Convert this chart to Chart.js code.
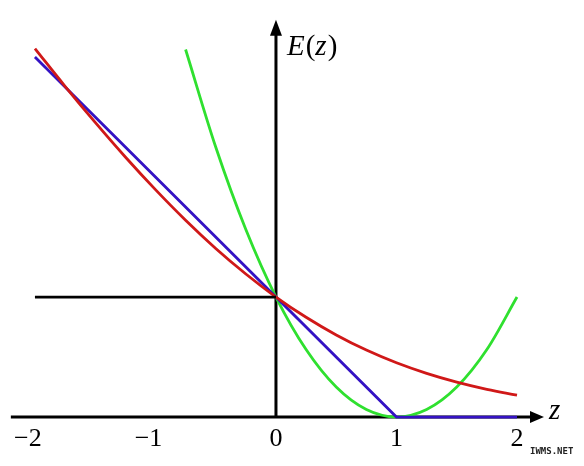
<!DOCTYPE html>
<html>
<head>
<meta charset="utf-8">
<script src="https://cdn.jsdelivr.net/npm/chart.js@4"></script>
<style>
  html,body{margin:0;padding:0;background:#fff;}
  #wrap{width:584px;height:466px;position:relative;}
</style>
</head>
<body>
<div id="wrap"><canvas id="c"></canvas></div>
<script>
// 误差函数对比图：logistic(红) / hinge(蓝) / 平方误差(绿) / 0-1 误分类(黑)

// 横轴刻度
const tickVals = [-2, -1, 0, 1, 2];
const tickLabels = ["\u22122", "\u22121", "0", "1", "2"];

// 红线：采样点
const zRed = [-2, -1.75, -1.5, -1.25, -1, -0.75, -0.5, -0.25, 0, 0.25, 0.5, 0.75, 1, 1.25, 1.5, 1.75, 2];
const eRed = [3.07, 2.756, 2.455, 2.167, 1.895, 1.640, 1.405, 1.192, 1.0, 0.831, 0.684, 0.558, 0.452, 0.364, 0.291, 0.231, 0.183];

// 绿线
const zGreen = [-0.75, -0.5, -0.25, 0, 0.25, 0.5, 0.75, 1, 1.25, 1.5, 1.75, 2];
const eGreen = [3.0625, 2.25, 1.5625, 1.0, 0.5625, 0.25, 0.0625, 0, 0.0625, 0.25, 0.5625, 1.0];

// 蓝线（折线）
const zBlue = [-2, 1, 2];
const eBlue = [3, 0, 0];

// 黑线（阶跃）
const zBlack = [-2, 0];
const eBlack = [1, 1];

// 坐标轴范围
const X_MIN = -2.29, X_MAX = 2.556;
const Y_MIN = -0.408, Y_MAX = 3.475;
const AXIS_X_FROM = -2.2, AXIS_X_TO = 2.224;
const AXIS_Y_TO = 3.31;

const pts = (xs, ys) => xs.map((x, i) => ({x, y: ys[i]}));

const SERIF = "'Liberation Serif', 'DejaVu Serif', serif";

const axesPlugin = {
  id: "axes",
  beforeDatasetsDraw(chart){
    const {ctx, scales:{x, y}} = chart;
    const x0 = x.getPixelForValue(0), y0 = y.getPixelForValue(0);
    const xa = x.getPixelForValue(AXIS_X_FROM), xb = x.getPixelForValue(AXIS_X_TO);
    const yt = y.getPixelForValue(AXIS_Y_TO);
    ctx.save();
    ctx.strokeStyle = "#000"; ctx.fillStyle = "#000"; ctx.lineWidth = 3;
    ctx.beginPath();
    ctx.moveTo(xa, y0); ctx.lineTo(xb - 10, y0);
    ctx.moveTo(x0, y0); ctx.lineTo(x0, yt + 10);
    ctx.stroke();
    // 箭头
    ctx.beginPath();
    ctx.moveTo(xb, y0); ctx.lineTo(xb - 14, y0 - 6); ctx.lineTo(xb - 14, y0 + 6); ctx.closePath();
    ctx.fill();
    ctx.beginPath();
    ctx.moveTo(x0, yt); ctx.lineTo(x0 - 6, yt + 16); ctx.lineTo(x0 + 6, yt + 16); ctx.closePath();
    ctx.fill();
    // 刻度文字
    ctx.font = "26px " + SERIF;
    ctx.textAlign = "center"; ctx.textBaseline = "alphabetic";
    tickVals.forEach((v, i) => {
      let px = x.getPixelForValue(v);
      if (tickLabels[i].startsWith("\u2212")) px -= 7;
      ctx.fillText(tickLabels[i], px, y0 + 29);
    });
    // 轴标签 E(z)：字母斜体，括号正体
    ctx.textAlign = "left";
    let tx = x0 + 11;
    const ty = yt + 35;
    [["E", true], ["(", false], ["z", true], [")", false]].forEach(([s, it]) => {
      ctx.font = (it ? "italic " : "") + "29px " + SERIF;
      ctx.fillText(s, tx, ty);
      tx += ctx.measureText(s).width + (it ? 1 : 0);
    });
    ctx.font = "italic 29px " + SERIF;
    ctx.fillText("z", xb + 5, y0 + 2);
    // 水印
    ctx.font = "bold 9px 'DejaVu Sans Mono', monospace";
    ctx.fillStyle = "#222";
    ctx.fillText("IWMS.NET", 530, 454);
    ctx.restore();
  }
};

new Chart(document.getElementById("c"), {
  type: "line",
  data: {
    datasets: [
      {data: pts(zBlack, eBlack), borderColor: "#000", borderWidth: 2.8, tension: 0},
      {data: pts(zRed, eRed), borderColor: "#d01818", borderWidth: 2.8, tension: 0.4},
      {data: pts(zBlue, eBlue), borderColor: "#3412c4", borderWidth: 2.8, tension: 0},
      {data: pts(zGreen, eGreen), borderColor: "#2fe02f", borderWidth: 2.8, cubicInterpolationMode: "monotone"}
    ]
  },
  options: {
    responsive: true, maintainAspectRatio: false, animation: false,
    layout: {padding: 0},
    elements: {point: {radius: 0}},
    plugins: {legend: {display: false}, tooltip: {enabled: false}},
    scales: {
      x: {type: "linear", min: X_MIN, max: X_MAX, display: false},
      y: {type: "linear", min: Y_MIN, max: Y_MAX, display: false}
    }
  },
  plugins: [axesPlugin]
});
</script>
</body>
</html>
